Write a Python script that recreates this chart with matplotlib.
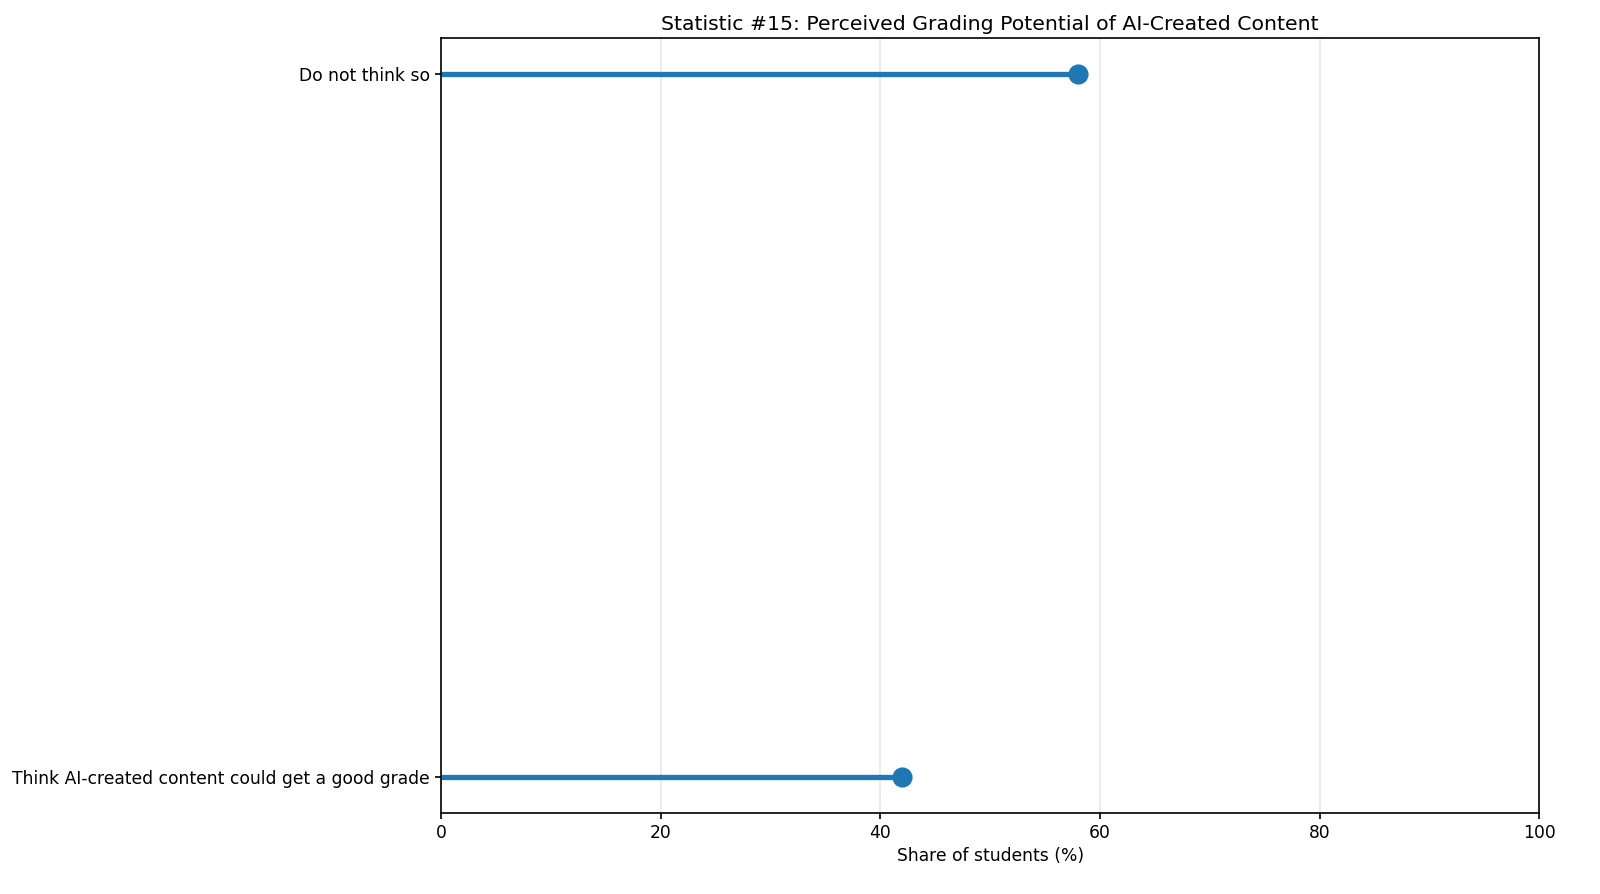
import numpy as np
import matplotlib.pyplot as plt

labels = ["Think AI-created content could get a good grade", "Do not think so"]
values = [42, 58]

fig, ax = plt.subplots(figsize=(16, 8.94), dpi=100)
y = np.arange(len(labels))
ax.hlines(y, 0, values, color="#1f77b4", linewidth=3.8)
ax.plot(values, y, "o", color="#1f77b4", markersize=13.5)
ax.set_yticks(y)
ax.set_yticklabels(labels, fontsize=12.3)
ax.set_xlim(0, 100)
ax.tick_params(axis="x", labelsize=12.3)
ax.tick_params(width=1.2, length=4.5)
for s in ax.spines.values():
    s.set_linewidth(1.2)
ax.set_xlabel("Share of students (%)", fontsize=12.3)
ax.set_title("Statistic #15: Perceived Grading Potential of AI-Created Content", fontsize=14.7)
ax.grid(axis="x", alpha=0.3, linewidth=1.2)
ax.set_axisbelow(True)
fig.subplots_adjust(left=0.2756, right=0.962, top=0.957, bottom=0.091)
fig.savefig("out.png")
